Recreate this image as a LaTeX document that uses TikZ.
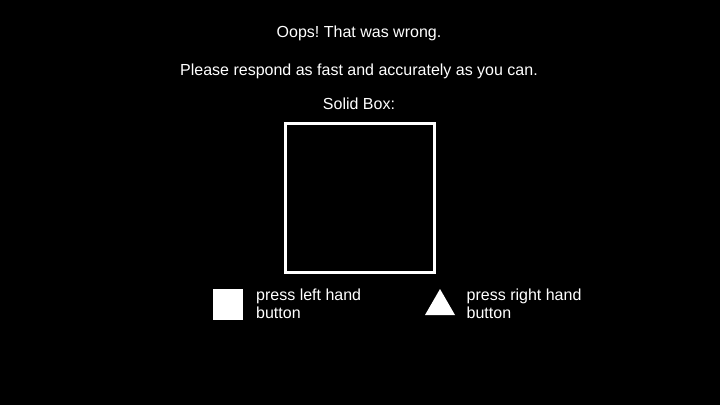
\documentclass[tikz,border=0pt]{standalone}
\usepackage{fontspec}
\setmainfont{Liberation Sans}
\frenchspacing

\begin{document}
\begin{tikzpicture}[x=1pt,y=-1pt,
  txt/.style={text=white,inner sep=0pt,font=\fontsize{16}{18}\selectfont},
  key/.style={txt,align=left,anchor=base west}]
\fill[black] (0,0) rectangle (720,405);
\useasboundingbox (0,0) rectangle (720,405);
\node[txt,anchor=base] (oops) at (359,37.5) {Oops! That was wrong.};
\node[txt,anchor=base] (hint) at (359,75.5) {Please respond as fast and accurately as you can.};
\node[txt,anchor=base] (title) at (359,109) {Solid Box:};
\draw[white,line width=2.5pt] (285.5,123.5) rectangle (434.5,272.5) coordinate (boxcorner);
\fill[white] (213,289) rectangle (243,320) coordinate (leftkey);
\node[key] (lefttext) at (256,318.3) {press left hand\\button};
\fill[white] (425,315) -- (455,315) -- (440,289) -- cycle;
\node[key] (righttext) at (466.5,318.3) {press right hand\\button};
\end{tikzpicture}
\end{document}
